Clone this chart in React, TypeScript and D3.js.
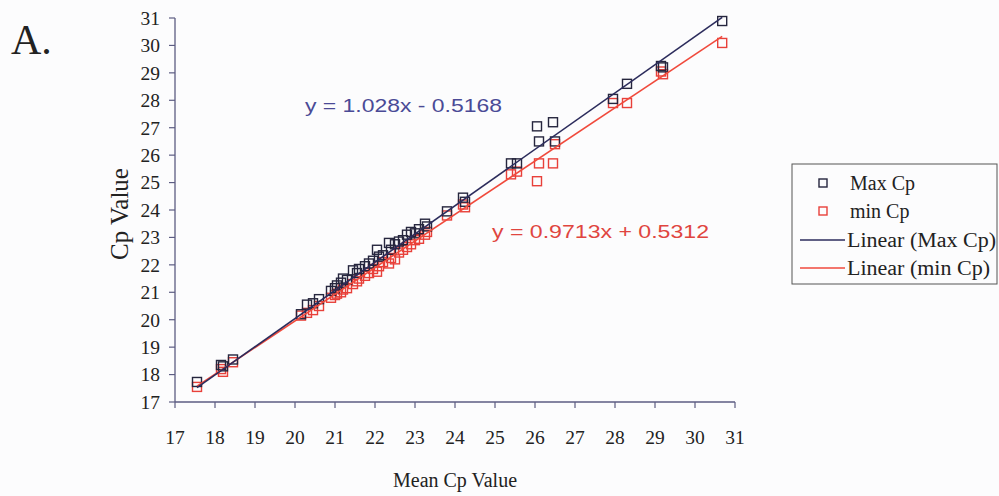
import React from 'react';
import * as d3 from 'd3';

// Mean Cp value (x) with matching Max Cp and min Cp values (y)
const meanCp = [17.55, 18.15, 18.2, 18.45, 20.15, 20.3, 20.45, 20.6, 20.9, 21.0, 21.05, 21.15, 21.2, 21.3, 21.45, 21.55, 21.6, 21.75, 21.85, 21.95, 22.05, 22.1, 22.2, 22.35, 22.4, 22.5, 22.6, 22.7, 22.8, 22.9, 23.0, 23.1, 23.25, 23.3, 23.8, 24.2, 24.25, 25.4, 25.55, 26.05, 26.1, 26.45, 26.5, 27.95, 28.3, 29.15, 29.2, 30.68];
const maxCp = [17.73, 18.35, 18.3, 18.55, 20.2, 20.55, 20.6, 20.75, 21.05, 21.15, 21.25, 21.35, 21.5, 21.45, 21.8, 21.7, 21.85, 21.95, 22.05, 22.15, 22.55, 22.3, 22.35, 22.8, 22.55, 22.75, 22.85, 22.9, 23.1, 23.2, 23.15, 23.3, 23.5, 23.4, 23.95, 24.45, 24.3, 25.7, 25.7, 27.05, 26.5, 27.2, 26.5, 28.05, 28.6, 29.25, 29.2, 30.89];
const minCp = [17.55, 18.2, 18.1, 18.45, 20.15, 20.25, 20.35, 20.5, 20.8, 20.9, 20.95, 21.0, 21.1, 21.15, 21.3, 21.4, 21.5, 21.6, 21.7, 21.85, 21.75, 21.95, 22.1, 22.05, 22.25, 22.2, 22.45, 22.55, 22.65, 22.75, 22.9, 22.95, 23.1, 23.2, 23.8, 24.2, 24.1, 25.3, 25.4, 25.05, 25.7, 25.7, 26.4, 27.9, 27.9, 29.05, 28.95, 30.09];

const axisTicks = [17, 18, 19, 20, 21, 22, 23, 24, 25, 26, 27, 28, 29, 30, 31];
const fitMax = { slope: 1.028, intercept: -0.5168, label: 'y = 1.028x - 0.5168' };
const fitMin = { slope: 0.9713, intercept: 0.5312, label: 'y = 0.9713x + 0.5312' };
const legendNames = ['Max Cp', 'min Cp', 'Linear (Max Cp)', 'Linear (min Cp)'];

const MAXC = '#26263e';
const MINC = '#e8403a';
const MAXLINE = '#2c2c5c';
const MINLINE = '#f04a3c';
const AXISC = '#5c5c82';
const TXT = '#222';
const SERIF = '"Liberation Serif", "Times New Roman", serif';
const SANS = '"Liberation Sans", Arial, sans-serif';

export default function App() {
  const W = 999, H = 496;
  const x = d3.scaleLinear().domain([17, 31]).range([175, 735]);
  const y = d3.scaleLinear().domain([17, 31]).range([402, 18]);
  const [x0, x1] = d3.extent(meanCp) as [number, number];
  const line = d3.line<[number, number]>().x(d => x(d[0])).y(d => y(d[1]));
  const fitPts = (f: typeof fitMax): [number, number][] => [x0, x1].map(v => [v, f.slope * v + f.intercept] as [number, number]);
  const sq = 9;

  const Square = ({ cx, cy, c, s = sq }: any) => (
    <rect x={cx - s / 2} y={cy - s / 2} width={s} height={s} fill="none" stroke={c} strokeWidth={1.4} />
  );

  const legRows = [183, 211, 240, 268];

  return (
    <svg width={W} height={H} style={{ position: 'absolute', left: 0, top: 0, background: '#fcfcfd' }}>
      <rect x={0} y={0} width={W} height={H} fill="#fcfcfd" />
      <text x={11} y={54} fontFamily={SERIF} fontSize={42} fill={TXT}>A.</text>

      {/* axes */}
      <line x1={x(17)} x2={x(17)} y1={y(17)} y2={y(31)} stroke={AXISC} strokeWidth={1.3} />
      <line x1={x(17)} x2={x(31)} y1={y(17)} y2={y(17)} stroke={AXISC} strokeWidth={1.3} />
      {axisTicks.map(t => (
        <g key={'y' + t}>
          <line x1={x(17) - 6} x2={x(17)} y1={y(t)} y2={y(t)} stroke={AXISC} strokeWidth={1.2} />
          <text x={x(17) - 15} y={y(t)} dy="0.35em" textAnchor="end" fontFamily={SERIF} fontSize={19.5} fill={TXT}>{t}</text>
        </g>
      ))}
      {axisTicks.map(t => (
        <g key={'x' + t}>
          <line x1={x(t)} x2={x(t)} y1={y(17)} y2={y(17) + 6} stroke={AXISC} strokeWidth={1.2} />
          <text x={x(t)} y={437} dy="0.35em" textAnchor="middle" fontFamily={SERIF} fontSize={19.5} fill={TXT}>{t}</text>
        </g>
      ))}
      <text x={455} y={480} dy="0.35em" textAnchor="middle" fontFamily={SERIF} fontSize={20} fill={TXT}>Mean Cp Value</text>
      <text transform={`translate(119,214) rotate(-90)`} dy="0.35em" textAnchor="middle" fontFamily={SERIF} fontSize={25} fill={TXT}>Cp Value</text>

      {/* markers */}
      {meanCp.map((m, i) => <Square key={'mn' + i} cx={x(m)} cy={y(minCp[i])} c={MINC} />)}
      {meanCp.map((m, i) => <Square key={'mx' + i} cx={x(m)} cy={y(maxCp[i])} c={MAXC} />)}

      {/* trendlines */}
      <path d={line(fitPts(fitMin)) || ''} stroke={MINLINE} strokeWidth={1.6} fill="none" />
      <path d={line(fitPts(fitMax)) || ''} stroke={MAXLINE} strokeWidth={1.6} fill="none" />

      <text x={305} y={105} dy="0.35em" fontFamily={SANS} fontSize={19} fill="#4a4a96" textLength={197} lengthAdjust="spacingAndGlyphs">{fitMax.label}</text>
      <text x={492} y={231} dy="0.35em" fontFamily={SANS} fontSize={19} fill="#e0453f" textLength={217} lengthAdjust="spacingAndGlyphs">{fitMin.label}</text>

      {/* legend */}
      <rect x={792} y={164} width={205} height={120} fill="#fcfcfd" stroke="#555" strokeWidth={1} />
      <Square cx={823} cy={legRows[0]} c={MAXC} s={8} />
      <Square cx={823} cy={legRows[1]} c={MINC} s={8} />
      <line x1={800} x2={845} y1={legRows[2]} y2={legRows[2]} stroke={MAXLINE} strokeWidth={1.6} />
      <line x1={800} x2={845} y1={legRows[3]} y2={legRows[3]} stroke={MINLINE} strokeWidth={1.6} />
      {legendNames.map((n, i) => (
        <text key={n} x={i < 2 ? 850 : 847} y={legRows[i]} dy="0.35em" fontFamily={SERIF} fontSize={20} fill={TXT}
          textLength={i === 2 ? 149 : i === 3 ? 143 : undefined} lengthAdjust="spacingAndGlyphs">{n}</text>
      ))}
    </svg>
  );
}
